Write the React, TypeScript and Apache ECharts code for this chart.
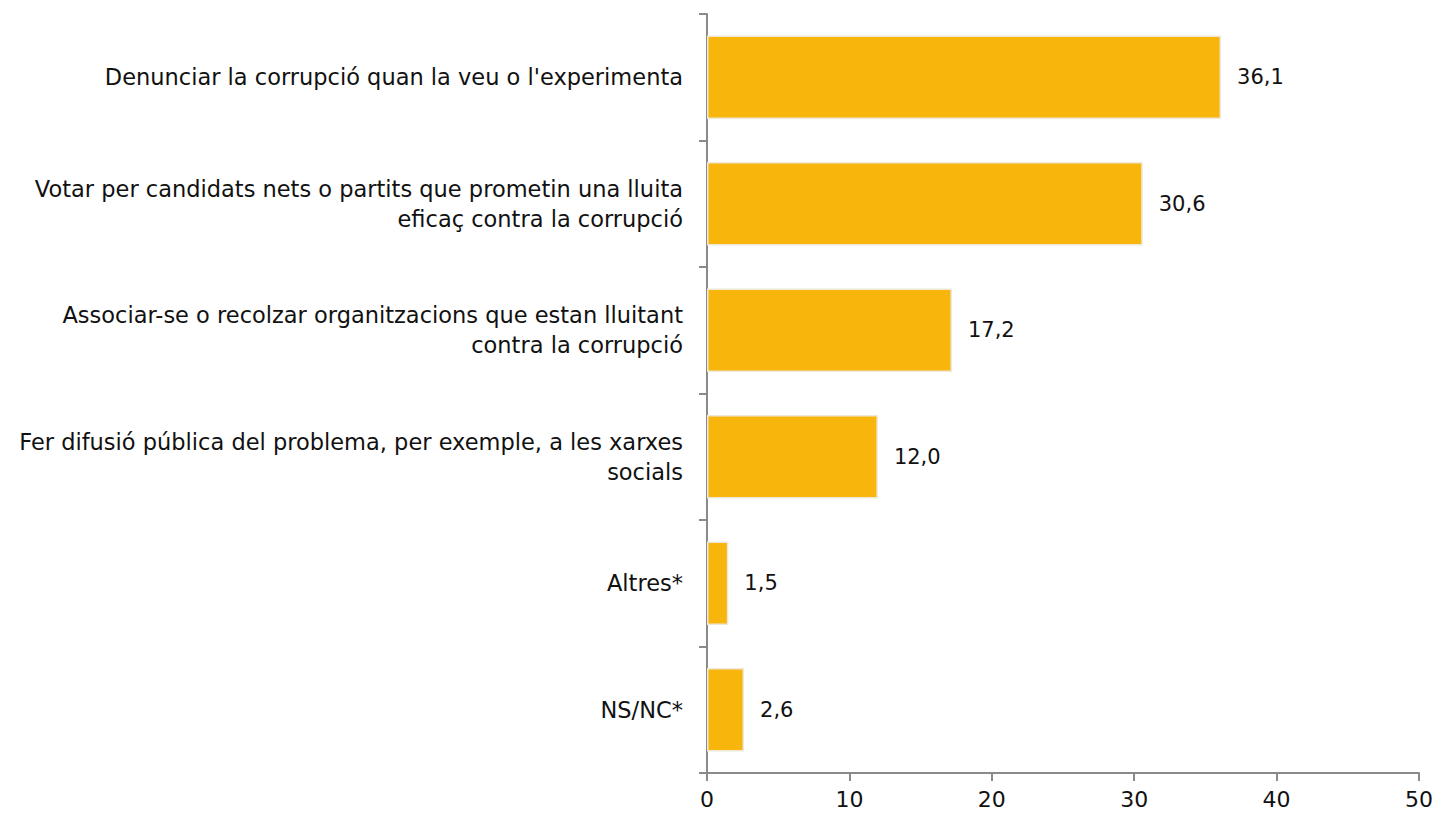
import React, { useEffect, useRef } from "react";
import * as echarts from "echarts";

const categories = [
  "Denunciar la corrupció quan la veu o l'experimenta",
  "Votar per candidats nets o partits que prometin una lluita\neficaç contra la corrupció",
  "Associar-se o recolzar organitzacions que estan lluitant\ncontra la corrupció",
  "Fer difusió pública del problema, per exemple, a les xarxes\nsocials",
  "Altres*",
  "NS/NC*",
];
const values = [36.1, 30.6, 17.2, 12.0, 1.5, 2.6];

const FONT = "'DejaVu Sans', 'Open Sans', sans-serif";

export default function App() {
  const ref = useRef<HTMLDivElement>(null);
  useEffect(() => {
    document.body.style.margin = "0";
    if (!ref.current) return;
    const chart = echarts.init(ref.current, null, { renderer: "svg" });
    chart.setOption({
      animation: false,
      textStyle: { fontFamily: FONT },
      grid: { left: 707, right: 16, top: 14, bottom: 42, containLabel: false },
      xAxis: {
        type: "value",
        min: 0,
        max: 50,
        interval: 10,
        splitLine: { show: false },
        axisLine: { show: true, lineStyle: { color: "#8a8a8a", width: 2 } },
        axisTick: { show: true, length: 8, lineStyle: { color: "#8a8a8a", width: 2 } },
        axisLabel: { color: "#111", fontSize: 22, margin: 15, fontFamily: FONT },
      },
      yAxis: {
        type: "category",
        data: categories,
        inverse: true,
        axisLine: { show: true, lineStyle: { color: "#8a8a8a", width: 2 } },
        axisTick: { show: true, length: 8, lineStyle: { color: "#8a8a8a", width: 2 } },
        axisLabel: {
          color: "#111",
          fontSize: 22.5,
          lineHeight: 30,
          margin: 24,
          align: "right",
          fontFamily: FONT,
        },
      },
      series: [
        {
          type: "bar",
          data: values,
          barCategoryGap: "34%",
          itemStyle: { color: "#F8B50C", borderColor: "#EEE8D8", borderWidth: 1.5 },
          label: {
            show: true,
            position: "right",
            distance: 16,
            color: "#111",
            fontSize: 21,
            fontFamily: FONT,
            formatter: (p: any) => p.value.toFixed(1).replace(".", ","),
          },
        },
      ],
    });
    return () => chart.dispose();
  }, []);
  return <div ref={ref} style={{ width: 1436, height: 815 }} />;
}
